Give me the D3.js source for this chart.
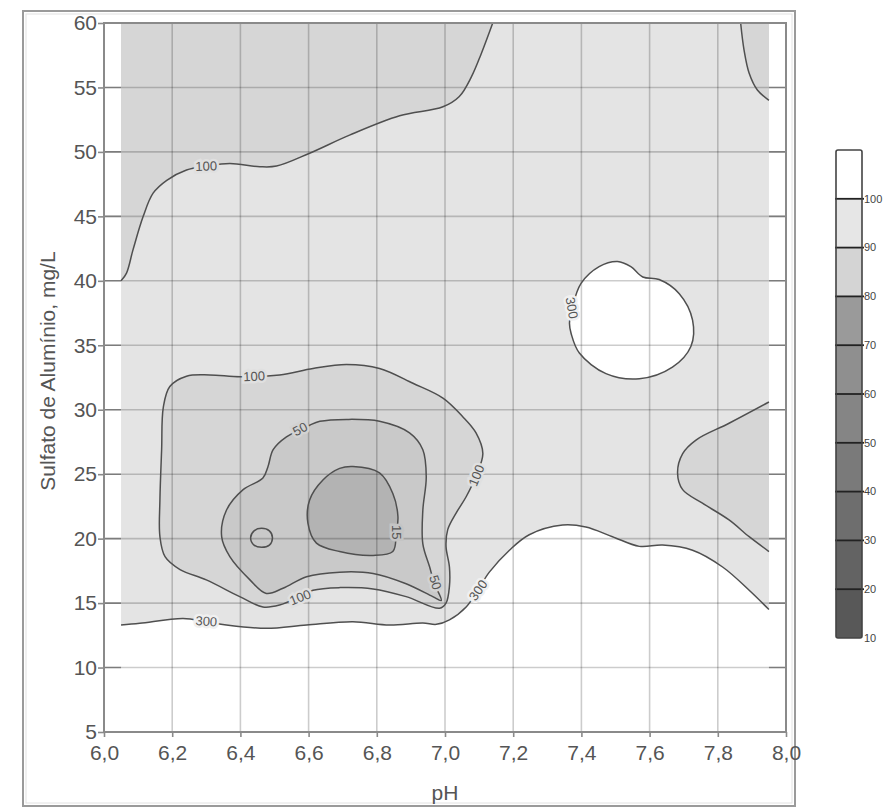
<!DOCTYPE html>
<html lang="pt">
<head>
<meta charset="utf-8">
<title>Sulfato de Alumínio x pH</title>
<script src="https://cdn.jsdelivr.net/npm/d3@7"></script>
<style>
  body { margin: 0; background: #fff; }
  text { font-family: Arial, "Liberation Sans", sans-serif; }
</style>
</head>
<body>
<script>
// ---- data (pH, sulfato mg/L) ----
var phTicks = [6.0, 6.2, 6.4, 6.6, 6.8, 7.0, 7.2, 7.4, 7.6, 7.8, 8.0];
var sulfTicks = [5, 10, 15, 20, 25, 30, 35, 40, 45, 50, 55, 60];
var dataPh = [6.05, 7.95];
var dataSulf = [5, 60];

// isoline 300 along the bottom, left edge to right edge
var c300Low = [[6.05,13.3],[6.105,13.43],[6.232,13.8],[6.30,13.55],[6.359,13.3],[6.476,13.04],[6.594,13.3],[6.73,13.55],[6.837,13.3],[6.935,13.45],[6.975,13.35],[7.013,13.7],[7.062,14.7],[7.096,16.0],[7.13,17.4],[7.189,19.1],[7.247,20.3],[7.345,21.05],[7.413,20.9],[7.491,20.15],[7.57,19.4],[7.638,19.5],[7.726,19.1],[7.814,17.8],[7.892,16.0],[7.95,14.5]];
// isoline 300 round the white island
var c300Island = [[7.365,36.7],[7.374,38.0],[7.399,39.8],[7.452,41.1],[7.506,41.5],[7.545,41.1],[7.58,40.3],[7.628,40.1],[7.687,39.0],[7.726,36.95],[7.721,34.9],[7.667,33.3],[7.57,32.4],[7.472,32.8],[7.394,34.4],[7.37,35.9]];
// isolines 100
var c100TopLeft = [[6.05,40.0],[6.066,40.6],[6.085,42.4],[6.115,45.0],[6.144,46.8],[6.184,47.8],[6.242,48.6],[6.30,48.9],[6.369,49.1],[6.457,48.85],[6.506,48.9],[6.603,49.9],[6.72,51.3],[6.867,52.8],[6.994,53.5],[7.042,54.3],[7.077,55.8],[7.106,57.6],[7.14,60]];
var c100TopRight = [[7.867,60],[7.877,57.9],[7.892,56.1],[7.916,54.8],[7.95,54.0]];
var c100Right = [[7.95,30.6],[7.833,28.95],[7.736,27.65],[7.697,26.6],[7.682,25.1],[7.697,23.8],[7.755,22.75],[7.833,21.45],[7.892,20.15],[7.95,19.0]];
var c100Blob = [[6.174,30.2],[6.193,31.8],[6.242,32.6],[6.31,32.7],[6.40,32.56],[6.515,32.7],[6.613,33.2],[6.711,33.5],[6.808,33.2],[6.906,32.05],[6.994,30.9],[7.052,29.46],[7.091,28.2],[7.111,26.6],[7.09,24.8],[7.062,23.25],[7.033,22.0],[7.008,20.7],[7.003,19.4],[7.013,17.8],[7.013,16.3],[7.003,15.0],[6.984,14.6],[6.886,15.5],[6.789,16.1],[6.691,16.2],[6.613,16.0],[6.574,15.5],[6.515,14.85],[6.466,14.7],[6.398,15.5],[6.30,16.8],[6.223,17.6],[6.179,18.6],[6.164,20.15],[6.164,23.0],[6.169,26.9]];
// isolines 50
var c50 = [[6.574,28.4],[6.535,27.9],[6.496,26.9],[6.481,25.6],[6.466,24.7],[6.408,23.8],[6.359,22.2],[6.345,20.15],[6.369,18.6],[6.428,16.8],[6.476,15.75],[6.525,16.15],[6.594,17.05],[6.691,17.4],[6.789,17.3],[6.886,16.5],[6.964,15.5],[6.989,15.2],[6.969,16.5],[6.955,17.8],[6.935,19.6],[6.935,22.2],[6.945,24.8],[6.935,26.9],[6.896,28.2],[6.808,29.1],[6.711,29.25],[6.633,29.1],[6.603,28.8]];
var c50Small = [[6.462,20.8],[6.485,20.6],[6.494,20.07],[6.485,19.5],[6.462,19.33],[6.44,19.5],[6.43,20.07],[6.44,20.6]];
// isoline 15
var c15 = [[6.73,25.6],[6.808,25.1],[6.847,23.5],[6.862,21.7],[6.857,20.4],[6.847,19.0],[6.789,18.7],[6.691,19.0],[6.623,19.65],[6.598,21.2],[6.603,23.0],[6.642,24.55],[6.691,25.45]];

// contour labels: value, pH, sulfato
var labelValues = [100, 100, 50, 15, 50, 100, 100, 300, 300, 300];
var labelPh     = [6.30, 6.44, 6.575, 6.858, 6.972, 6.575, 7.092, 6.30, 7.097, 7.372];
var labelSulf   = [48.9, 32.6, 28.5, 20.5, 16.6, 15.45, 24.9, 13.6, 16.0, 37.9];

// legend (colour bar)
var legendTicks = [100, 90, 80, 70, 60, 50, 40, 30, 20, 10];
var legendBands = [10, 20, 30, 40, 50, 60, 70, 80, 90, 100];
var legendColors = ["#585858", "#636363", "#6e6e6e", "#7a7a7a", "#858585", "#8f8f8f", "#9a9a9a", "#d4d4d4", "#e6e6e6", "#ffffff"];

// ---- drawing ----
var w = 895, h = 808;
var fills = { over300: "#ffffff", b100: "#e4e4e4", b50: "#d6d6d6", b15: "#c9c9c9", low: "#b3b3b3" };
var lineColor = "#4f4f4f";
var textColor = "#555";

var svg = d3.select("body").append("svg")
    .attr("width", w)
    .attr("height", h);

var x = d3.scaleLinear().domain([6, 8]).range([104, 786]);
var y = d3.scaleLinear().domain([5, 60]).range([732, 23]);

// outer frame
svg.append("rect").attr("x", 23).attr("y", 11).attr("width", 772).attr("height", 795)
    .attr("fill", "none").attr("stroke", "#9a9a9a").attr("stroke-width", 2);
svg.append("rect").attr("x", 26).attr("y", 14).attr("width", 766).attr("height", 789)
    .attr("fill", "none").attr("stroke", "#e2e2e2").attr("stroke-width", 1);

var plot = svg.append("g");

// grid under the fills (shows darker in the empty side strips)
function grid(g, color) {
    g.selectAll("line.v").data(phTicks.slice(1, -1)).enter().append("line")
        .attr("x1", function(d) { return x(d); }).attr("x2", function(d) { return x(d); })
        .attr("y1", y(60)).attr("y2", y(5))
        .attr("stroke", color).attr("stroke-width", 1.6);
    g.selectAll("line.h").data(sulfTicks.slice(1, -1)).enter().append("line")
        .attr("y1", function(d) { return y(d); }).attr("y2", function(d) { return y(d); })
        .attr("x1", x(6)).attr("x2", x(8))
        .attr("stroke", color).attr("stroke-width", 1.6);
}
grid(plot.append("g"), "#9c9c9c");

var smooth = d3.line().x(function(d) { return x(d[0]); }).y(function(d) { return y(d[1]); })
    .curve(d3.curveCatmullRom.alpha(0.5));
var smoothClosed = d3.line().x(function(d) { return x(d[0]); }).y(function(d) { return y(d[1]); })
    .curve(d3.curveCatmullRomClosed.alpha(0.5));

function openPoly(pts, corners) {
    var p = smooth(pts);
    corners.forEach(function(c) { p += "L" + x(c[0]) + "," + y(c[1]); });
    return p + "Z";
}

// fills
var fl = plot.append("g");
fl.append("rect")
    .attr("x", x(dataPh[0])).attr("y", y(dataSulf[1]))
    .attr("width", x(dataPh[1]) - x(dataPh[0])).attr("height", y(dataSulf[0]) - y(dataSulf[1]))
    .attr("fill", fills.over300);
fl.append("path").attr("d", openPoly(c300Low, [[dataPh[1], 60], [dataPh[0], 60]])).attr("fill", fills.b100);
fl.append("path").attr("d", smoothClosed(c300Island)).attr("fill", fills.over300);
fl.append("path").attr("d", openPoly(c100TopLeft, [[dataPh[0], 60]])).attr("fill", fills.b50);
fl.append("path").attr("d", openPoly(c100TopRight, [[dataPh[1], 60]])).attr("fill", fills.b50);
fl.append("path").attr("d", openPoly(c100Right, [])).attr("fill", fills.b50);
fl.append("path").attr("d", smoothClosed(c100Blob)).attr("fill", fills.b50);
fl.append("path").attr("d", smoothClosed(c50)).attr("fill", fills.b15);
fl.append("path").attr("d", smoothClosed(c15)).attr("fill", fills.low);

// grid over the fills
grid(plot.append("g"), "rgba(0,0,0,0.2)");

// isolines
var ln = plot.append("g").attr("fill", "none").attr("stroke", lineColor).attr("stroke-width", 1.5);
[c300Low, c100TopLeft, c100TopRight, c100Right].forEach(function(c) {
    ln.append("path").attr("d", smooth(c));
});
[c300Island, c100Blob, c50, c50Small, c15].forEach(function(c) {
    ln.append("path").attr("d", smoothClosed(c));
});

// isoline labels
var labelAngle = [-2, -3, -28, 90, 72, -22, -68, 4, -55, 80];
var halo = { 300: "#f0f0f0", 100: "#e0e0e0", 50: "#d2d2d2", 15: "#c4c4c4" };
plot.selectAll("text.lab").data(labelValues).enter().append("text")
    .attr("transform", function(d, i) {
        return "translate(" + x(labelPh[i]) + "," + y(labelSulf[i]) + ") rotate(" + labelAngle[i] + ")";
    })
    .attr("text-anchor", "middle").attr("dy", "0.35em")
    .attr("font-size", 13)
    .attr("fill", textColor)
    .attr("stroke", function(d) { return halo[d]; })
    .attr("stroke-width", 5)
    .attr("paint-order", "stroke")
    .text(function(d) { return d; });

// plot frame
plot.append("rect").attr("x", x(6)).attr("y", y(60))
    .attr("width", x(8) - x(6)).attr("height", y(5) - y(60))
    .attr("fill", "none").attr("stroke", "#8a8a8a").attr("stroke-width", 2);

// axes
var comma = d3.formatLocale({ decimal: ",", thousands: ".", grouping: [3], currency: ["", ""] }).format(".1f");
var xAxis = svg.append("g").attr("transform", "translate(0," + y(5) + ")")
    .call(d3.axisBottom(x).tickValues(phTicks).tickFormat(comma).tickSize(5).tickPadding(8));
var yAxis = svg.append("g").attr("transform", "translate(" + x(6) + ",0)")
    .call(d3.axisLeft(y).tickValues(sulfTicks).tickSize(6).tickPadding(1));
[xAxis, yAxis].forEach(function(a) {
    a.select(".domain").remove();
    a.selectAll(".tick line").attr("stroke", "#8a8a8a").attr("stroke-width", 1.6);
    a.selectAll(".tick text").attr("fill", textColor).attr("font-size", 21)
        .attr("font-family", "Arial, 'Liberation Sans', sans-serif");
});

svg.append("text").attr("x", x(7)).attr("y", 800)
    .attr("text-anchor", "middle").attr("font-size", 21).attr("fill", textColor).text("pH");
svg.append("text").attr("transform", "translate(55," + y(33) + ") rotate(-90)")
    .attr("text-anchor", "middle").attr("font-size", 21).attr("fill", textColor)
    .text("Sulfato de Alumínio, mg/L");

// legend
var ly = d3.scaleLinear().domain([10, 110]).range([638, 150]);
var lg = svg.append("g");
lg.selectAll("rect.band").data(legendBands).enter().append("rect")
    .attr("x", 836).attr("width", 26)
    .attr("y", function(d) { return ly(d + 10); })
    .attr("height", function(d) { return ly(d) - ly(d + 10); })
    .attr("fill", function(d, i) { return legendColors[i]; });
lg.selectAll("line.sep").data(legendTicks.slice(0, -1)).enter().append("line")
    .attr("x1", 835).attr("x2", 864)
    .attr("y1", function(d) { return ly(d); }).attr("y2", function(d) { return ly(d); })
    .attr("stroke", "#222").attr("stroke-width", 1.8);
lg.append("rect").attr("x", 836).attr("y", ly(110)).attr("width", 26).attr("height", ly(10) - ly(110))
    .attr("rx", 2).attr("fill", "none").attr("stroke", "#444").attr("stroke-width", 1.6);
lg.selectAll("text").data(legendTicks).enter().append("text")
    .attr("x", 864).attr("y", function(d) { return ly(d); }).attr("dy", "0.35em")
    .attr("font-size", 11).attr("fill", "#444")
    .text(function(d) { return d; });
</script>
</body>
</html>
